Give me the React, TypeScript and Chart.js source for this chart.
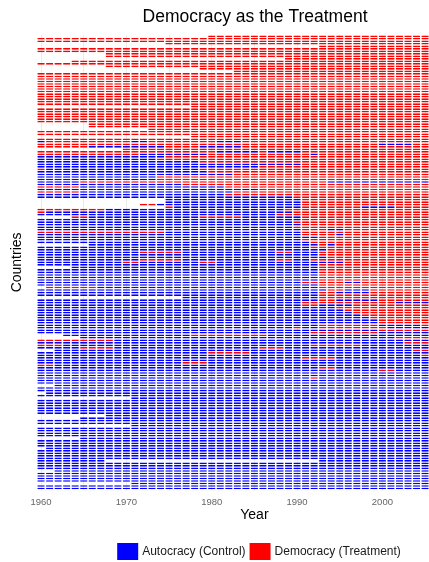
import React, { useEffect, useRef } from "react";
import { Chart, registerables } from "chart.js";

Chart.register(...registerables);

const FONT = "'Liberation Sans', Arial, Helvetica, sans-serif";

// Years shown on the x axis (one column per year)
const YEARS = [
  1960, 1961, 1962, 1963, 1964, 1965, 1966, 1967, 1968, 1969,
  1970, 1971, 1972, 1973, 1974, 1975, 1976, 1977, 1978, 1979,
  1980, 1981, 1982, 1983, 1984, 1985, 1986, 1987, 1988, 1989,
  1990, 1991, 1992, 1993, 1994, 1995, 1996, 1997, 1998, 1999,
  2000, 2001, 2002, 2003, 2004, 2005,
];
const X_TICK_LABELS = [1960, 1970, 1980, 1990, 2000, 2010];
const STATUS_LABELS = ["Autocracy (Control)", "Democracy (Treatment)"];
const STATUS_COLORS = ["#0000FF", "#FF0000"];

// One entry per country (top to bottom), as runs over YEARS:
// "n." = n years missing, "nA" = n years autocracy, "nD" = n years democracy
const COUNTRY_RUNS = [
  "20. 26D", "46D", "46D", "15. 31D", "33. 13D", "46D", "46D", "8. 38D", "8. 38D", "29. 17D",
  "4. 42D", "46D", "8. 38D", "19. 27D", "23. 23D", "46D", "46D", "46D", "46D", "46D",
  "46D", "46D", "46D", "46D", "46D", "46D", "46D", "46D", "18. 28D", "46D",
  "46D", "46D", "46D", "46D", "46D", "6. 40D", "6. 40D", "13. 33D", "46D", "46D",
  "18. 28D", "46D", "1A 10D 2A 8D 3A 22D", "40D 4A 2D", "6D 9A 4D 5A 22D", "10. 36D",
  "21D 5A 1D 4A 15D", "12D 8A 12D 1A 13D", "15A 31D", "14A 32D",
  "19A 27D", "31A 15D", "26A 20D", "1D 18A 27D", "20A 26D", "23A 23D", "14A 32D", "14A 32D",
  "5A 29D 12A", "17A 29D",
  "5D 17A 24D", "26A 20D", "5D 18A 23D", "22A 24D", "30A 16D", "15. 16A 15D", "15. 16A 15D",
  "12. 2D 17A 15D", "15. 1D 15A 7D 4A 4D", "8D 21A 17D",
  "1D 29A 16D", "28A 18D", "4. 2D 13A 5D 7A 15D", "31A 15D", "30A 16D", "31A 15D", "30A 16D",
  "31A 3D 2A 10D", "15D 16A 15D", "31A 4D 1A 10D",
  "33A 13D", "31A 15D", "32A 14D", "6. 27A 1D 1A 11D", "32A 14D", "34A 12D",
  "12A 5D 11A 2D 3A 13D", "33A 13D", "34A 12D", "12A 5D 11A 2D 2A 14D",
  "10A 2D 7A 2D 15A 10D", "33A 13D", "4. 29A 13D", "33A 13D", "33A 13D", "33A 13D", "33A 13D",
  "33A 13D", "31A 5D 2A 8D", "33A 13D",
  "1. 6D 26A 13D", "34A 2D 3A 7D", "33A 2D 4A 7D", "33A 13D", "17. 16A 13D", "33A 2D 5A 6D",
  "31A 11D 4A", "31A 2D 4A 9D", "35A 11D", "36A 10D",
  "37A 9D", "38A 8D", "39A 7D", "40A 6D", "40A 6D", "33A 7D 5A 1D", "30A 1D 2A 8D 5A",
  "40A 6D", "32A 8D 6A", "3. 15A 9D 19A",
  "5. 37A 4D", "9D 37A", "43A 3D", "3D 29A 6D 8A", "5A 4D 17A 3D 17A", "2. 42A 2D",
  "20A 5D 21A", "45A 1D", "31A 4D 11A", "46A",
  "17A 3D 26A", "2D 44A", "33A 2D 11A", "40A 2D 4A", "46A", "46A", "32A 1D 13A", "46A", "46A", "2. 44A",
  "46A", "46A", "1. 45A", "46A", "11. 35A", "46A", "46A", "46A", "46A", "46A",
  "46A", "8. 38A", "5. 41A", "46A", "46A", "11. 35A", "46A", "46A", "46A", "46A",
  "5. 41A", "46A", "46A", "46A", "1. 45A", "46A", "46A", "46A", "46A", "8A 25. 13A",
  "46A", "46A", "46A", "2. 44A", "46A", "46A", "46A", "46A", "11. 35A", "46A",
  "46A",
];

function expandRuns(s: string): string[] {
  const out: string[] = [];
  for (const tok of s.trim().split(/\s+/)) {
    const n = parseInt(tok, 10);
    const code = tok.slice(String(n).length);
    for (let k = 0; k < n; k++) out.push(code);
  }
  return out;
}

const statusLegend = {
  id: "statusLegend",
  afterDraw(chart: any) {
    const ctx = chart.ctx as CanvasRenderingContext2D;
    ctx.save();
    ctx.font = `12px ${FONT}`;
    const boxW = 21;
    const boxH = 17;
    const gapText = 4;
    const gapItem = 4;
    const widths = STATUS_LABELS.map((l) => ctx.measureText(l).width);
    const total =
      widths.reduce((a, w) => a + boxW + gapText + w, 0) + gapItem * (STATUS_LABELS.length - 1);
    let x = chart.width / 2 - total / 2 + 4;
    const top = chart.height - 19;
    STATUS_LABELS.forEach((label, i) => {
      ctx.fillStyle = STATUS_COLORS[i];
      ctx.fillRect(x, top, boxW, boxH);
      x += boxW + gapText;
      ctx.fillStyle = "#1a1a1a";
      ctx.textBaseline = "middle";
      ctx.textAlign = "left";
      ctx.fillText(label, x, top + boxH / 2 + 0.5);
      x += widths[i] + gapItem;
    });
    ctx.restore();
  },
};

export default function App() {
  const ref = useRef<HTMLCanvasElement>(null);

  useEffect(() => {
    const rows = COUNTRY_RUNS.map(expandRuns);
    const countries = COUNTRY_RUNS.map((_, i) => `Country ${i + 1}`);

    const datasets = YEARS.map((yr, j) => ({
      label: String(yr),
      data: rows.map((r) => (r[j] === "." || r[j] === undefined ? null : [yr - 0.5, yr + 0.5])),
      backgroundColor: rows.map((r) => (r[j] === "D" ? STATUS_COLORS[1] : STATUS_COLORS[0])),
      borderColor: "#ffffff",
      borderWidth: { left: 0.8, right: 0.8, top: 0, bottom: 0 },
      borderSkipped: false,
      grouped: false,
      barPercentage: 0.66,
      categoryPercentage: 1,
    }));

    const chart = new Chart(ref.current as HTMLCanvasElement, {
      type: "bar",
      data: { labels: countries, datasets: datasets as any },
      plugins: [statusLegend],
      options: {
        indexAxis: "y",
        animation: false,
        responsive: true,
        maintainAspectRatio: false,
        devicePixelRatio: 1,
        events: [],
        layout: { padding: { left: 0, right: 0, top: 0, bottom: 34 } },
        font: { family: FONT },
        plugins: {
          legend: { display: false },
          tooltip: { enabled: false },
          title: {
            display: true,
            text: "Democracy as the Treatment",
            color: "#000000",
            font: { family: FONT, size: 17.5, weight: "normal" },
            padding: { top: 6.5, bottom: 7.5 },
          },
        },
        scales: {
          x: {
            type: "linear",
            min: 1959.5,
            max: 2010.5,
            afterFit: (s: any) => {
              s.paddingRight = Math.max(s.paddingRight, 38);
            },
            grid: { color: "#ebebeb", drawTicks: false, lineWidth: 1 },
            border: { display: false },
            ticks: {
              stepSize: 5,
              includeBounds: false,
              autoSkip: false,
              maxRotation: 0,
              padding: 6.5,
              color: "#666666",
              font: { family: FONT, size: 9.5 },
              callback: (v: any) => (X_TICK_LABELS.includes(Number(v)) ? String(v) : ""),
            },
            title: {
              display: true,
              text: "Year",
              color: "#000000",
              font: { family: FONT, size: 14 },
              padding: { top: -7, bottom: 4 },
            },
          },
          y: {
            type: "category",
            grid: { display: false },
            border: { display: false },
            ticks: { display: false },
            title: {
              display: true,
              text: "Countries",
              color: "#000000",
              font: { family: FONT, size: 14 },
              padding: { top: 9, bottom: 3 },
            },
          },
        },
      } as any,
    });
    return () => chart.destroy();
  }, []);

  return (
    <div
      style={{
        position: "fixed",
        left: 0,
        top: 0,
        width: 429,
        height: 562,
        overflow: "hidden",
        background: "#ffffff",
      }}
    >
      <div style={{ position: "relative", width: 510, height: 562 }}>
        <canvas ref={ref} />
      </div>
    </div>
  );
}
